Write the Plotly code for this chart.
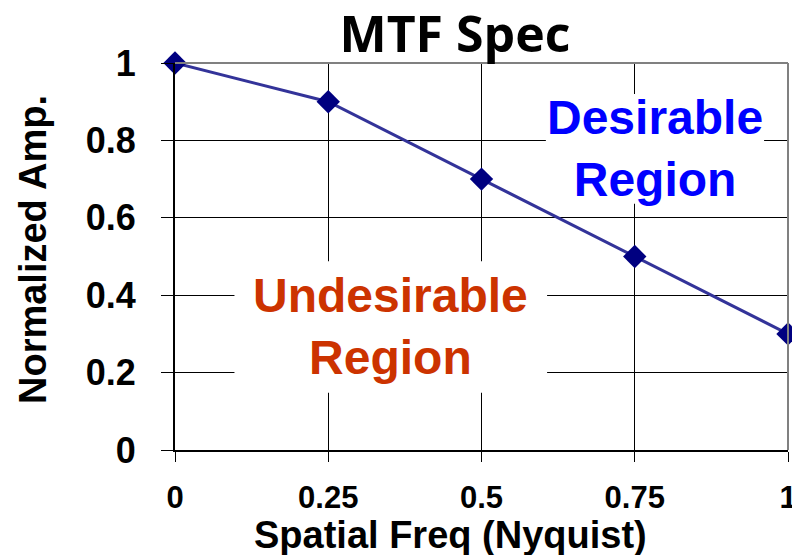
import plotly.graph_objects as go

freq = [0, 0.25, 0.5, 0.75, 1]
amp = [1.0, 0.9, 0.7, 0.5, 0.3]
x_ticks = [0, 0.25, 0.5, 0.75, 1]
x_labels = ["0", "0.25", "0.5", "0.75", "1"]
y_ticks = [0, 0.2, 0.4, 0.6, 0.8, 1.0]
y_labels = ["0", "0.2", "0.4", "0.6", "0.8", "1"]

# region labels: text, centre (x, y), box half-size (dx, dy), colour
regions = [
    ("Desirable<br>Region", 0.783, 0.778, 0.178, 0.142, "#0000FF"),
    ("Undesirable<br>Region", 0.352, 0.318, 0.255, 0.17, "#CC3300"),
]

FONT = "Liberation Sans"
L, R, T, B = 175, 4, 63, 105
PW, PH = 792 - L - R, 555 - T - B

fig = go.Figure()
fig.add_trace(go.Scatter(
    x=freq, y=amp, mode="lines+markers",
    line=dict(color="#333399", width=3),
    marker=dict(symbol="diamond", size=18, color="#000080"),
    cliponaxis=False, showlegend=False,
))

fig.update_layout(
    width=792, height=555,
    margin=dict(l=L, r=R, t=T, b=B),
    paper_bgcolor="white", plot_bgcolor="white",
    font=dict(family=FONT, color="black"),
    title=dict(text="<b>MTF Spec</b>", x=455/792, xanchor="center",
               y=1 - 34/555, yanchor="middle",
               font=dict(family="Open Sans", size=50, color="black")),
)
fig.update_xaxes(
    range=[0, 1], tickvals=x_ticks, ticktext=[f"<b>{t}</b>" for t in x_labels],
    tickfont=dict(size=31), ticks="outside", ticklen=10, tickcolor="black",
    ticklabeloverflow="allow", ticklabelstandoff=9, automargin=False,
    showline=True, linecolor="black", linewidth=2,
    showgrid=True, gridcolor="black", gridwidth=1,
    zeroline=False,
)
fig.update_yaxes(
    range=[0, 1], tickvals=y_ticks, ticktext=[f"<b>{t}</b>" for t in y_labels],
    tickfont=dict(size=36), ticks="outside", ticklen=12, tickcolor="black",
    ticklabelstandoff=18, automargin=False,
    showline=True, linecolor="black", linewidth=2,
    showgrid=True, gridcolor="black", gridwidth=1,
    zeroline=False,
)

# axis titles
fig.add_annotation(text="<b>Spatial Freq (Nyquist)</b>", xref="paper", yref="paper",
                   x=(450 - L) / PW, y=-(535 - (T + PH)) / PH,
                   xanchor="center", yanchor="middle", showarrow=False,
                   font=dict(size=38, family=FONT, color="black"))
fig.add_annotation(text="<b>Normalized Amp.</b>", xref="paper", yref="paper",
                   x=-(L - 33) / PW, y=(T + PH - 250) / PH, textangle=-90,
                   xanchor="center", yanchor="middle", showarrow=False,
                   font=dict(size=38, family=FONT, color="black"))

# gray top/right frame
fig.add_shape(type="line", xref="paper", yref="paper", x0=0, x1=1, y0=1, y1=1,
              line=dict(color="#808080", width=2))
fig.add_shape(type="line", xref="paper", yref="paper", x0=1, x1=1, y0=0, y1=1,
              line=dict(color="#808080", width=2))

for text, cx, cy, dx, dy, col in regions:
    fig.add_shape(type="rect", xref="x", yref="y",
                  x0=cx - dx, x1=cx + dx, y0=cy - dy, y1=cy + dy,
                  fillcolor="white", line=dict(width=0), layer="between")
    fig.add_annotation(x=cx, y=cy, xref="x", yref="y",
                       text=f"<b>{text}</b>", showarrow=False,
                       font=dict(size=48, color=col, family=FONT))

fig.write_html("out.html")
